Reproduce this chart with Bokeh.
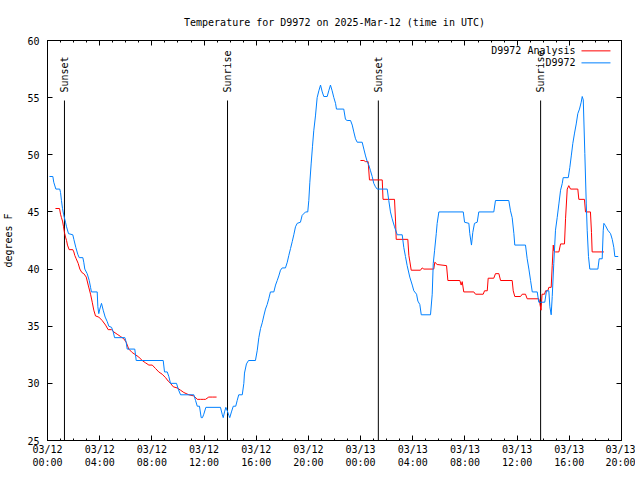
import math
from bokeh.plotting import figure
from bokeh.models import FixedTicker, LinearAxis, Range1d, Label, Arrow
from bokeh.embed import file_html
from bokeh.resources import INLINE

# ---------------- data ----------------
title_text = "Temperature for D9972 on 2025-Mar-12 (time in UTC)"
y_label = "degrees F"

# hours since 03/12 00:00 UTC
x_tick_hours = [0, 4, 8, 12, 16, 20, 24, 28, 32, 36, 40, 44]
x_tick_labels = ["03/12\n00:00", "03/12\n04:00", "03/12\n08:00", "03/12\n12:00",
                 "03/12\n16:00", "03/12\n20:00", "03/13\n00:00", "03/13\n04:00",
                 "03/13\n08:00", "03/13\n12:00", "03/13\n16:00", "03/13\n20:00"]
x_minor_hours = list(range(0, 45))
y_ticks = [25, 30, 35, 40, 45, 50, 55, 60]

sun_hours = [1.30, 13.80, 25.36, 37.80]
sun_labels = ["Sunset", "Sunrise", "Sunset", "Sunrise"]

series_names = ["D9972 Analysis", "D9972"]
series_colors = ["#ff0000", "#0080ff"]

obs_hours = [0.15, 0.41, 0.48, 0.64, 0.94, 1.00, 1.07, 1.15, 1.23, 1.38, 1.46, 1.61, 1.94, 2.02,
             2.17, 2.32, 2.43, 2.71, 2.78, 2.86, 3.04, 3.20, 3.30, 3.37, 3.81, 3.86, 3.93, 4.01,
             4.14, 4.27, 4.42, 4.58, 4.70, 4.91, 5.04, 5.14, 5.93, 6.03, 6.11, 6.69, 6.80, 8.87,
             8.97, 9.18, 9.30, 9.43, 9.89, 10.02, 10.20, 11.22, 11.35, 11.48, 11.65, 11.78, 11.88,
             11.98, 12.14, 13.26, 13.39, 13.47, 13.57, 13.67, 13.78, 13.90, 13.97, 14.10, 14.24,
             14.43, 14.54, 14.66, 14.93, 15.05, 15.10, 15.25, 15.41, 15.94, 16.08, 16.20, 16.33,
             16.46, 16.58, 16.71, 16.84, 16.96, 17.09, 17.35, 17.48, 17.61, 17.73, 17.86, 17.99,
             18.24, 18.38, 18.50, 18.63, 18.76, 18.88, 19.01, 19.14, 19.39, 19.52, 19.78, 19.95,
             20.03, 20.11, 20.21, 20.31, 20.41, 20.54, 20.67, 20.80, 20.93, 21.06, 21.18, 21.44,
             21.56, 21.69, 21.82, 21.95, 22.08, 22.15, 22.71, 22.84, 22.97, 23.23, 23.36, 23.48,
             23.61, 23.74, 24.12, 24.25, 24.38, 24.51, 24.63, 24.76, 24.89, 25.01, 25.14, 25.27,
             26.04, 26.16, 26.29, 26.42, 26.60, 26.81, 27.19, 27.31, 27.44, 27.57, 27.77, 27.96,
             28.08, 28.29, 28.39, 28.54, 28.65, 29.36, 29.49, 29.57, 29.67, 29.80, 29.87, 30.00,
             31.87, 31.97, 32.30, 32.37, 32.50, 32.60, 32.73, 32.94, 33.06, 34.21, 34.34, 35.36,
             35.49, 35.62, 35.75, 35.82, 36.64, 36.77, 36.90, 37.03, 37.16, 37.54, 37.66, 38.12,
             38.25, 38.43, 38.51, 38.61, 38.69, 38.81, 38.94, 39.07, 39.20, 39.33, 39.46, 39.53,
             39.92, 40.04, 40.15, 40.27, 40.40, 40.53, 40.65, 40.78, 40.91, 40.99, 41.07, 41.19,
             41.30, 41.37, 41.47, 41.57, 42.19, 42.29, 42.52, 42.60, 42.65, 42.77, 42.95, 43.16,
             43.29, 43.41, 43.49, 43.75]
obs_temps = [48.1, 48.1, 47.6, 47.0, 47.0, 46.7, 46.0, 45.3, 44.8, 44.1, 43.7, 43.1, 43.0, 42.6,
             41.9, 41.3, 41.0, 41.0, 40.6, 40.0, 39.6, 39.0, 38.4, 38.0, 38.0, 36.7, 36.1, 36.5,
             37.0, 36.4, 35.8, 35.4, 35.0, 34.9, 34.5, 34.0, 34.0, 33.6, 33.0, 33.0, 32.0, 32.0,
             31.0, 31.0, 30.6, 30.0, 30.0, 29.5, 29.0, 29.0, 28.5, 28.0, 28.0, 27.0, 27.0,
             27.3, 27.9, 27.9, 27.3, 27.0, 27.5, 27.9, 27.6, 27.2, 27.0, 27.5, 28.0,
             28.0, 28.5, 29.0, 29.0, 30.0, 30.9, 31.7, 32.0, 32.0, 32.9, 34.0, 34.8,
             35.3, 35.9, 36.5, 36.9, 37.4, 38.0, 38.0, 38.6, 39.0, 39.4, 39.9, 40.1,
             40.1, 40.6, 41.2, 41.8, 42.4, 43.0, 43.7, 44.0, 44.1, 44.7, 45.0, 45.0,
             46.0, 47.6, 49.2, 50.7, 52.1, 53.4, 55.0, 55.6, 56.1, 55.5, 55.1, 55.1,
             55.6, 56.1, 55.6, 55.0, 54.5, 54.0, 54.0, 53.1, 53.0, 53.0, 52.6, 52.0,
             51.4, 51.1, 51.1, 50.5, 49.9, 49.4, 49.1, 48.6, 48.1, 47.5, 47.2, 47.0,
             47.0, 46.0, 45.0, 44.4, 43.7, 43.0, 43.0, 41.9, 41.1, 40.3, 39.3, 38.6,
             38.1, 37.8, 37.2, 36.9, 36.0, 36.0, 37.8, 40.5, 41.6, 43.1, 44.0, 45.0,
             45.0, 44.1, 44.0, 43.1, 42.1, 43.2, 44.0, 44.1, 45.0, 45.0, 46.0, 46.0,
             45.1, 44.5, 43.1, 42.1, 42.1, 40.9, 40.0, 39.0, 38.0, 38.0, 37.1, 37.1,
             38.1, 38.1, 36.7, 36.0, 37.6, 40.5, 43.4, 44.5, 45.7, 46.9, 47.5, 48.0,
             48.0, 48.9, 49.9, 51.0, 51.9, 52.7, 53.6, 54.0, 54.6, 55.1, 54.8, 50.1,
             45.7, 43.4, 41.1, 40.0, 40.0, 40.9, 40.9, 43.4, 44.0, 43.8, 43.4, 43.1,
             42.6, 41.9, 41.1, 41.1]

nan = float("nan")
ana_hours = [0.61, 0.92, 1.00, 1.07, 1.15, 1.23, 1.30, 1.38, 1.46, 1.53, 1.66, 1.94, 2.02, 2.09,
             2.20, 2.35, 2.48, 2.63, 2.78, 2.97, 3.12, 3.30, 3.43, 3.55, 3.68, 3.93, 4.19, 4.45,
             4.65, 4.91, 5.08, 5.34, 5.60, 5.85, 6.03, 6.23, 6.49, 6.75, 7.00, 7.26, 7.51, 7.77,
             8.03, 8.28, 8.53, 8.79, 9.05, 9.25, 9.43, 9.64, 9.94, 10.20, 10.45, 10.83, 11.22,
             11.48, 11.73, 11.98, 12.11, 12.36, 12.63, 12.96,
             nan,
             23.99, 24.25, 24.38, 24.58, 24.68, 25.66, 25.72, 26.60, 26.68, 26.73, 27.62, 27.70,
             27.77, 27.88, 28.59, 28.72, 28.85, 29.61, 29.69, 29.87, 30.59, 30.69, 31.61, 31.71,
             31.79, 31.91, 32.68, 32.81, 33.40, 33.50, 33.71, 33.78, 34.21, 34.34, 34.60, 34.73,
             35.62, 35.70, 35.82, 36.26, 36.39, 36.64, 36.77, 37.66, 37.74, 37.83, 37.91, 38.10,
             38.18, 38.35, 38.43, 38.61, 38.69, 38.77, 38.81, 38.94, 39.20, 39.33, 39.63, 39.71,
             39.84, 39.96, 40.09, 40.65, 40.73, 41.16, 41.24, 41.62, 41.70, 41.75, 42.65]
ana_temps = [45.3, 45.3, 44.8, 44.5, 44.2, 43.7, 43.2, 42.8, 42.5, 42.1, 41.7, 41.7, 41.5, 41.2,
             40.9, 40.5, 40.0, 39.7, 39.6, 39.3, 38.6, 37.8, 37.1, 36.4, 35.9, 35.8, 35.5, 35.1,
             34.7, 34.7, 34.5, 34.3, 34.1, 33.9, 33.6, 33.0, 32.7, 32.5, 32.3, 32.0, 31.8, 31.6,
             31.6, 31.3, 31.0, 30.8, 30.5, 30.2, 30.0, 29.7, 29.6, 29.4, 29.2, 29.0, 28.9,
             28.6, 28.6, 28.6, 28.6, 28.8, 28.8, 28.8,
             nan,
             49.5, 49.5, 49.4, 49.4, 47.8, 47.8, 46.1, 46.1, 44.2, 42.6, 42.6, 41.2,
             40.7, 39.9, 39.9, 40.1, 40.0, 40.0, 40.6, 40.4, 40.3, 39.0, 39.0, 38.6,
             38.9, 38.0, 38.0, 37.8, 37.8, 38.1, 38.1, 39.2, 39.2, 39.6, 39.6, 39.0,
             39.0, 38.1, 37.6, 37.6, 37.8, 37.8, 37.4, 37.4, 37.0, 36.4, 37.8, 37.8,
             38.1, 38.1, 38.4, 38.4, 40.3, 42.1, 41.6, 41.5, 41.5, 42.2, 42.2, 44.4,
             47.0, 47.3, 47.0, 47.0, 46.1, 46.1, 45.0, 45.0, 43.2, 41.5, 41.5]

# ---------------- styling ----------------
FONT = "DejaVu Sans Mono"
FS = "10px"
x_min, x_max = 0, 44
y_min, y_max = 25, 60
line_top_frac = 0.85
label_frac = 0.87

p = figure(frame_width=574, frame_height=400,
           x_range=Range1d(x_min, x_max), y_range=Range1d(y_min, y_max),
           output_backend="svg", toolbar_location=None,
           min_border_left=46, min_border_right=14, min_border_top=40, min_border_bottom=34,
           title=title_text)
p.title.text_font = FONT
p.title.text_font_size = FS
p.title.text_font_style = "normal"
p.title.text_color = "black"
p.title.align = "center"
p.title.standoff = 26
p.outline_line_color = "black"
p.outline_line_width = 1
p.xgrid.visible = False
p.ygrid.visible = False
p.background_fill_color = "white"
p.border_fill_color = "white"

xticker = FixedTicker(ticks=x_tick_hours, minor_ticks=x_minor_hours)
yticker = FixedTicker(ticks=y_ticks, minor_ticks=[])

bottom_ax = p.below[0]
left_ax = p.left[0]

bottom_ax.ticker = xticker
bottom_ax.major_label_overrides = {h: lab for h, lab in zip(x_tick_hours, x_tick_labels)}
left_ax.ticker = yticker
left_ax.axis_label = y_label
left_ax.axis_label_text_font = FONT
left_ax.axis_label_text_font_size = FS
left_ax.axis_label_text_font_style = "normal"
left_ax.axis_label_text_color = "black"
left_ax.axis_label_standoff = 10

top_ax = LinearAxis(ticker=xticker, major_label_standoff=0,
                    major_label_overrides={h: "" for h in x_tick_hours})
right_ax = LinearAxis(ticker=yticker, major_label_standoff=0,
                      major_label_overrides={v: "" for v in y_ticks})
p.add_layout(top_ax, "above")
p.add_layout(right_ax, "right")

for ax in [bottom_ax, left_ax, top_ax, right_ax]:
    ax.major_tick_in = 5
    ax.major_tick_out = 0
    ax.minor_tick_in = 2
    ax.minor_tick_out = 0
    ax.axis_line_color = "black"
    ax.major_tick_line_color = "black"
    ax.minor_tick_line_color = "black"
    ax.major_label_text_font = FONT
    ax.major_label_text_font_size = FS
    ax.major_label_text_color = "black"
bottom_ax.major_label_standoff = 3
left_ax.major_label_standoff = 8

# sunrise / sunset markers
y_line_top = y_min + line_top_frac * (y_max - y_min)
y_label_pos = y_min + label_frac * (y_max - y_min)
p.segment(x0=sun_hours, y0=[y_min] * len(sun_hours), x1=sun_hours,
          y1=[y_line_top] * len(sun_hours), line_color="black", line_width=1)
for h, lab in zip(sun_hours, sun_labels):
    p.add_layout(Label(x=h, y=y_label_pos, text=lab, angle=math.pi / 2,
                       text_align="left", text_baseline="middle",
                       text_font=FONT, text_font_size=FS, text_color="black"))

# data series
p.line(ana_hours, ana_temps, line_color=series_colors[0], line_width=1)
p.line(obs_hours, obs_temps, line_color=series_colors[1], line_width=1)

# key (gnuplot style: text then line sample) in data units
key_text_x = x_min + 0.9200 * (x_max - x_min)
key_line_x0 = x_min + 0.9303 * (x_max - x_min)
key_line_x1 = x_min + 0.9808 * (x_max - x_min)
key_rows = [y_min + 0.9741 * (y_max - y_min), y_min + 0.9441 * (y_max - y_min)]
for name, col, yy in zip(series_names, series_colors, key_rows):
    p.add_layout(Label(x=key_text_x, y=yy, text=name, text_align="right",
                       text_baseline="middle", text_font=FONT, text_font_size=FS,
                       text_color="black"))
    p.add_layout(Arrow(end=None, x_start=key_line_x0, y_start=yy, x_end=key_line_x1,
                       y_end=yy, line_color=col, line_width=1))

open("out.html", "w").write(file_html(p, INLINE))
